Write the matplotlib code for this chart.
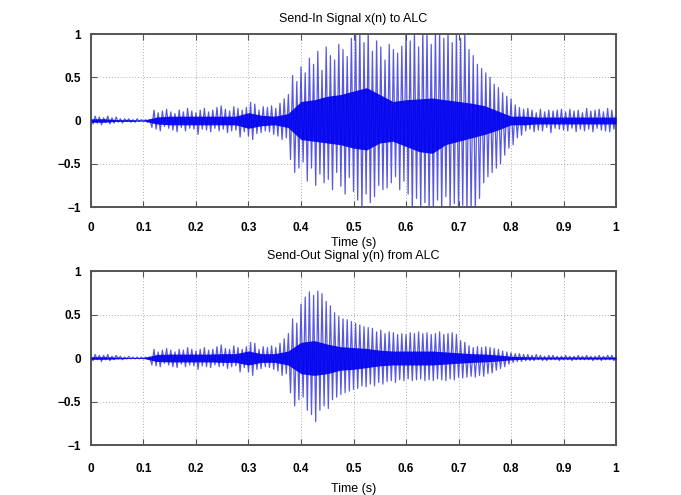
import numpy as np
import matplotlib
matplotlib.use("Agg")
import matplotlib.pyplot as plt

# ---- data ----
sample_step = 0.004  # seconds between listed samples
x_signal = [
    0.02, -0.04, 0.05, -0.03, 0.04, -0.05, 0.03, -0.02, 0.05, -0.04, 0.03, -0.03, 0.04, -0.02, 0.02, -0.03, 0.02, -0.01, 0.02, -0.02, 0.01, -0.02, 0.02, -0.01, 0.01,
    -0.01, 0.01, -0.02, 0.01, -0.08, 0.12, -0.10, 0.09, -0.12, 0.11, -0.07, 0.13, -0.09, 0.10, -0.11, 0.08, -0.13, 0.12, -0.08, 0.10, -0.12, 0.14, -0.09, 0.11, -0.10,
    0.09, -0.16, 0.12, -0.10, 0.14, -0.11, 0.10, -0.13, 0.12, -0.09, 0.15, -0.12, 0.17, -0.10, 0.13, -0.14, 0.11, -0.12, 0.16, -0.11, 0.14, -0.19, 0.12, -0.13, 0.15,
    -0.18, 0.21, -0.22, 0.19, -0.15, 0.12, -0.14, 0.16, -0.12, 0.15, -0.13, 0.17, -0.16, 0.14, -0.18, 0.20, -0.22, 0.25, -0.20, 0.30, -0.45, 0.52, -0.60, 0.45, -0.55,
    0.62, -0.48, 0.55, -0.70, 0.72, -0.55, 0.65, -0.75, 0.80, -0.62, 0.58, -0.72, 0.85, -0.68, 0.75, -0.80, 0.70, -0.60, 0.88, -0.76, 0.82, -0.85, 0.74, -0.66, 0.95,
    -0.82, 1.05, -0.92, 1.05, -1.05, 0.90, -0.85, 1.05, -0.95, 0.80, -0.88, 0.92, -0.75, 0.85, -0.80, 0.70, -0.78, 0.88, -0.72, 0.82, -0.65, 0.78, -0.80, 0.86, -0.70,
    1.05, -0.85, 0.92, -1.05, 1.05, -0.90, 0.85, -1.05, 1.05, -0.95, 1.05, -1.05, 0.88, -1.05, 1.05, -0.92, 1.05, -1.05, 0.95, -0.88, 1.05, -1.05, 0.90, -0.96, 1.05,
    -1.05, 0.95, -0.98, 1.05, -1.05, 0.82, -1.05, 0.75, -1.05, 0.65, -0.90, 0.60, -0.72, 0.55, -0.65, 0.50, -0.60, 0.42, -0.55, 0.38, -0.50, 0.32, -0.40, 0.28, -0.32,
    0.25, -0.28, 0.18, -0.20, 0.15, -0.17, 0.13, -0.12, 0.14, -0.10, 0.12, -0.13, 0.09, -0.11, 0.13, -0.12, 0.10, -0.08, 0.12, -0.14, 0.11, -0.09, 0.12, -0.10, 0.13,
    -0.11, 0.10, -0.12, 0.13, -0.09, 0.11, -0.13, 0.12, -0.10, 0.09, -0.12, 0.14, -0.10, 0.11, -0.13, 0.12, -0.09, 0.13, -0.11, 0.10, -0.12, 0.14, -0.13, 0.12, -0.10, 0.11,
]
y_signal = [
    0.02, -0.03, 0.04, -0.02, 0.03, -0.04, 0.03, -0.02, 0.04, -0.03, 0.02, -0.02, 0.03, -0.01, 0.02, -0.02, 0.01, -0.01, 0.02, -0.01, 0.01, -0.01, 0.01, -0.01, 0.01,
    -0.01, 0.01, -0.01, 0.01, -0.08, 0.10, -0.09, 0.07, -0.10, 0.09, -0.06, 0.11, -0.08, 0.09, -0.10, 0.07, -0.11, 0.10, -0.07, 0.09, -0.10, 0.12, -0.08, 0.10, -0.09,
    0.08, -0.13, 0.10, -0.09, 0.12, -0.10, 0.09, -0.11, 0.10, -0.08, 0.13, -0.10, 0.15, -0.09, 0.11, -0.12, 0.10, -0.10, 0.14, -0.09, 0.12, -0.16, 0.10, -0.11, 0.13,
    -0.16, 0.18, -0.20, 0.17, -0.13, 0.10, -0.12, 0.13, -0.10, 0.12, -0.11, 0.14, -0.13, 0.12, -0.15, 0.17, -0.20, 0.22, -0.18, 0.28, -0.40, 0.45, -0.55, 0.40, -0.48,
    0.62, -0.45, 0.70, -0.60, 0.76, -0.65, 0.72, -0.73, 0.77, -0.60, 0.74, -0.55, 0.65, -0.58, 0.60, -0.48, 0.52, -0.45, 0.48, -0.42, 0.45, -0.40, 0.44, -0.38, 0.42,
    -0.36, 0.40, -0.35, 0.38, -0.32, 0.36, -0.33, 0.35, -0.30, 0.34, -0.32, 0.30, -0.28, 0.32, -0.30, 0.28, -0.27, 0.30, -0.26, 0.29, -0.28, 0.27, -0.25, 0.28, -0.26,
    0.27, -0.24, 0.29, -0.26, 0.28, -0.25, 0.30, -0.24, 0.28, -0.26, 0.29, -0.25, 0.27, -0.26, 0.28, -0.24, 0.30, -0.25, 0.27, -0.26, 0.28, -0.24, 0.29, -0.25, 0.27,
    -0.22, 0.20, -0.23, 0.18, -0.22, 0.14, -0.21, 0.12, -0.22, 0.13, -0.20, 0.12, -0.21, 0.13, -0.18, 0.12, -0.17, 0.11, -0.14, 0.10, -0.12, 0.08, -0.10, 0.07, -0.07,
    0.06, -0.05, 0.05, -0.04, 0.05, -0.04, 0.04, -0.03, 0.04, -0.03, 0.03, -0.03, 0.04, -0.02, 0.03, -0.03, 0.02, -0.03, 0.03, -0.02, 0.03, -0.02, 0.02, -0.03, 0.02,
    -0.02, 0.03, -0.02, 0.02, -0.03, 0.02, -0.02, 0.03, -0.02, 0.02, -0.02, 0.03, -0.02, 0.02, -0.03, 0.02, -0.02, 0.03, -0.03, 0.02, -0.02, 0.03, -0.02, 0.03, -0.03, 0.02,
]

# dense core band of each signal, every 0.025 s
core_step = 0.025
x_core_upper = [0.02, 0.02, 0.01, 0.01, 0.005, 0.04, 0.05, 0.05, 0.05, 0.05, 0.05, 0.05, 0.09, 0.06, 0.05, 0.08,
                0.22, 0.24, 0.28, 0.30, 0.34, 0.38, 0.30, 0.22, 0.24, 0.25, 0.26, 0.24, 0.22, 0.20, 0.17, 0.11,
                0.05, 0.05, 0.04, 0.04, 0.04, 0.04, 0.04, 0.04, 0.04]
x_core_lower = [-0.02, -0.02, -0.01, -0.01, -0.005, -0.04, -0.05, -0.05, -0.05, -0.05, -0.05, -0.05, -0.09, -0.06, -0.05, -0.08,
                -0.22, -0.24, -0.26, -0.28, -0.32, -0.34, -0.26, -0.24, -0.30, -0.36, -0.38, -0.28, -0.24, -0.20, -0.16, -0.11,
                -0.05, -0.05, -0.04, -0.04, -0.04, -0.04, -0.04, -0.04, -0.04]
y_core_upper = [0.015, 0.015, 0.01, 0.005, 0.005, 0.04, 0.045, 0.045, 0.045, 0.045, 0.05, 0.05, 0.08, 0.05, 0.05, 0.08,
                0.18, 0.20, 0.16, 0.13, 0.12, 0.11, 0.09, 0.08, 0.08, 0.08, 0.08, 0.07, 0.06, 0.05, 0.045, 0.035,
                0.02, 0.015, 0.012, 0.012, 0.012, 0.012, 0.012, 0.012, 0.012]
y_core_lower = [-0.015, -0.015, -0.01, -0.005, -0.005, -0.04, -0.045, -0.045, -0.045, -0.045, -0.05, -0.05, -0.08, -0.05, -0.05, -0.08,
                -0.18, -0.20, -0.18, -0.14, -0.13, -0.11, -0.09, -0.08, -0.08, -0.08, -0.08, -0.07, -0.06, -0.05, -0.045, -0.035,
                -0.02, -0.015, -0.012, -0.012, -0.012, -0.012, -0.012, -0.012, -0.012]

titles = ["Send-In Signal x(n) to ALC", "Send-Out Signal y(n) from ALC"]
x_ticks = [0, 0.1, 0.2, 0.3, 0.4, 0.5, 0.6, 0.7, 0.8, 0.9, 1]
x_tick_labels = ["0", "0.1", "0.2", "0.3", "0.4", "0.5", "0.6", "0.7", "0.8", "0.9", "1"]
y_ticks = [-1, -0.5, 0, 0.5, 1]
y_tick_labels = ["\u22121", "\u22120.5", "0", "0.5", "1"]
x_label = "Time (s)"

plt.rcParams['font.family'] = ['Liberation Sans', 'DejaVu Sans']

fig = plt.figure(figsize=(6.81, 4.95), dpi=100)
ax_rects = [[0.1336, 0.5818, 0.771, 0.3495], [0.1336, 0.101, 0.771, 0.3515]]
signals = [x_signal, y_signal]
cores = [(x_core_upper, x_core_lower), (y_core_upper, y_core_lower)]
label_pads = [11, 13]
xlabel_pads = [2, 6]

for i in range(2):
    ax = fig.add_axes(ax_rects[i])
    sig = np.array(signals[i])
    t = np.arange(len(sig)) * sample_step
    cu, cl = cores[i]
    tc = np.arange(len(cu)) * core_step
    ax.plot(t, sig, color='#3030d8', lw=0.9, alpha=0.8, zorder=2)
    ax.fill_between(tc, cl, cu, color='#0000f0', alpha=0.92, lw=0, zorder=3)
    ax.set_xlim(0, 1)
    ax.set_ylim(-1, 1)
    ax.set_xticks(x_ticks)
    ax.set_xticklabels(x_tick_labels)
    ax.set_yticks(y_ticks)
    ax.set_yticklabels(y_tick_labels)
    ax.grid(True, color='#b0b0b0', linestyle=(0, (1, 2)), linewidth=0.7)
    ax.tick_params(direction='in', top=True, right=True, length=4, width=0.8, color='#555555',
                   labelsize=8.5, pad=4)
    ax.tick_params(axis='x', pad=label_pads[i])
    ax.tick_params(axis='y', pad=7)
    for lab in ax.get_xticklabels() + ax.get_yticklabels():
        lab.set_fontweight('bold')
    for s in ax.spines.values():
        s.set_color('#555555')
        s.set_linewidth(1.4)
    ax.set_title(titles[i], fontsize=9, pad=9)
    ax.set_xlabel(x_label, fontsize=9, labelpad=xlabel_pads[i])

fig.savefig("out.png", dpi=100)
